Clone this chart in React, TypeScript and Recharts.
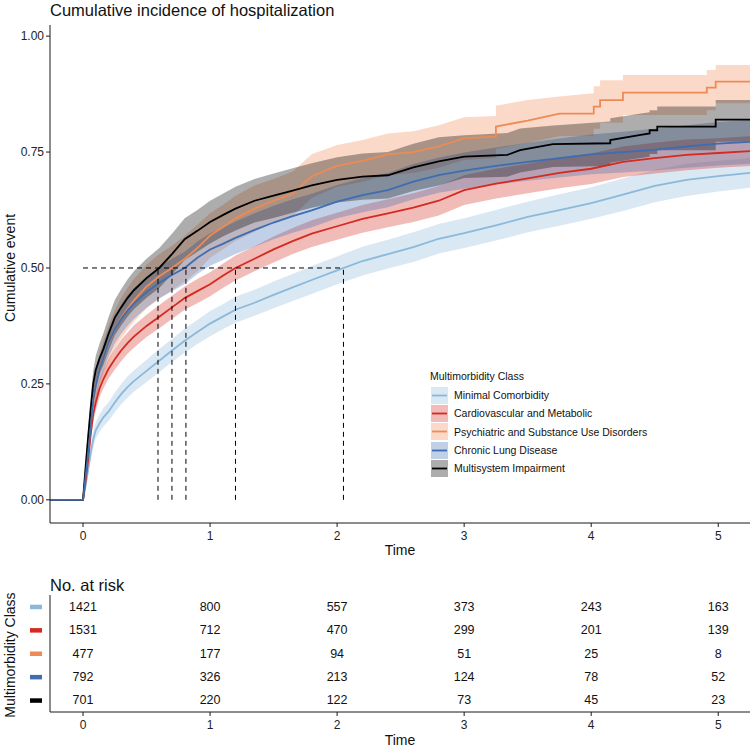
import { ComposedChart, Line, Area, XAxis, YAxis, ReferenceLine, ScatterChart, Scatter } from "recharts";

const FONT = '"Liberation Sans", Arial, Helvetica, sans-serif';

const classNames = [
  "Minimal Comorbidity",
  "Cardiovascular and Metabolic",
  "Psychiatric and Substance Use Disorders",
  "Chronic Lung Disease",
  "Multisystem Impairment",
];
const classColors = ["#8AB9DB", "#D42A20", "#EF8A54", "#3E6DB0", "#000000"];

// shared time grid (years) for the smoother curves
const gridTime = [-0.26, 0, 0.02, 0.04, 0.06, 0.08, 0.1, 0.13, 0.16, 0.2, 0.25, 0.3, 0.35, 0.4, 0.5, 0.6, 0.7, 0.8, 0.9, 1.0, 1.1, 1.2, 1.35, 1.5, 1.65, 1.8, 2.0, 2.2, 2.4, 2.6, 2.8, 3.0, 3.25, 3.5, 3.75, 4.0, 4.25, 4.5, 4.75, 5.0, 5.25];

const minimalEst = [0, 0, 0.03, 0.065, 0.1, 0.13, 0.15, 0.165, 0.178, 0.19, 0.21, 0.228, 0.243, 0.256, 0.278, 0.3, 0.322, 0.343, 0.362, 0.38, 0.395, 0.41, 0.425, 0.442, 0.458, 0.474, 0.495, 0.515, 0.53, 0.545, 0.563, 0.575, 0.592, 0.61, 0.625, 0.64, 0.658, 0.677, 0.69, 0.698, 0.705];
const minimalLo = [0, 0, 0.022, 0.053, 0.085, 0.113, 0.132, 0.146, 0.158, 0.17, 0.189, 0.206, 0.22, 0.233, 0.254, 0.275, 0.297, 0.317, 0.336, 0.353, 0.368, 0.382, 0.397, 0.413, 0.429, 0.444, 0.465, 0.484, 0.499, 0.513, 0.531, 0.543, 0.559, 0.577, 0.591, 0.606, 0.623, 0.642, 0.655, 0.665, 0.673];
const minimalHi = [0, 0, 0.038, 0.077, 0.115, 0.147, 0.168, 0.184, 0.198, 0.21, 0.231, 0.25, 0.266, 0.279, 0.302, 0.325, 0.347, 0.369, 0.388, 0.407, 0.422, 0.438, 0.453, 0.471, 0.487, 0.504, 0.525, 0.546, 0.561, 0.577, 0.595, 0.607, 0.625, 0.643, 0.659, 0.674, 0.693, 0.712, 0.725, 0.731, 0.737];

const cardioEst = [0, 0, 0.04, 0.085, 0.14, 0.185, 0.21, 0.24, 0.26, 0.282, 0.303, 0.322, 0.338, 0.352, 0.375, 0.395, 0.415, 0.435, 0.45, 0.465, 0.483, 0.5, 0.52, 0.54, 0.558, 0.574, 0.59, 0.606, 0.618, 0.63, 0.645, 0.668, 0.682, 0.693, 0.705, 0.714, 0.729, 0.737, 0.744, 0.748, 0.752];
const cardioLo = [0, 0, 0.032, 0.074, 0.126, 0.168, 0.192, 0.221, 0.24, 0.261, 0.281, 0.299, 0.315, 0.328, 0.351, 0.37, 0.39, 0.41, 0.424, 0.439, 0.457, 0.473, 0.493, 0.512, 0.53, 0.545, 0.561, 0.576, 0.588, 0.599, 0.613, 0.636, 0.65, 0.661, 0.672, 0.681, 0.696, 0.704, 0.711, 0.716, 0.72];
const cardioHi = [0, 0, 0.048, 0.096, 0.154, 0.202, 0.228, 0.259, 0.28, 0.303, 0.325, 0.345, 0.361, 0.376, 0.399, 0.42, 0.44, 0.46, 0.476, 0.491, 0.509, 0.527, 0.547, 0.568, 0.586, 0.603, 0.619, 0.636, 0.648, 0.661, 0.677, 0.7, 0.714, 0.725, 0.738, 0.747, 0.762, 0.77, 0.777, 0.78, 0.784];

// repeated times mark the visible jumps of the step curve
const psychTime = [-0.26, 0, 0.02, 0.04, 0.06, 0.08, 0.1, 0.13, 0.16, 0.2, 0.25, 0.3, 0.35, 0.4, 0.5, 0.6, 0.7, 0.8, 0.9, 1.0, 1.1, 1.2, 1.35, 1.5, 1.65, 1.8, 2.0, 2.2, 2.4, 2.6, 2.8, 3.0, 3.25, 3.25, 3.5, 3.75, 4.02, 4.02, 4.07, 4.07, 4.25, 4.25, 4.91, 4.91, 4.98, 4.98, 5.25];
const psychEst = [0, 0, 0.055, 0.11, 0.16, 0.21, 0.245, 0.28, 0.305, 0.335, 0.368, 0.392, 0.412, 0.43, 0.46, 0.482, 0.5, 0.52, 0.543, 0.57, 0.588, 0.607, 0.628, 0.645, 0.66, 0.698, 0.72, 0.731, 0.745, 0.75, 0.762, 0.78, 0.783, 0.805, 0.818, 0.833, 0.833, 0.848, 0.848, 0.862, 0.862, 0.878, 0.878, 0.889, 0.889, 0.902, 0.902];
const psychLo = [0, 0, 0.04, 0.09, 0.135, 0.18, 0.212, 0.244, 0.267, 0.295, 0.326, 0.348, 0.367, 0.384, 0.413, 0.434, 0.452, 0.471, 0.493, 0.522, 0.54, 0.558, 0.578, 0.598, 0.612, 0.651, 0.675, 0.686, 0.7, 0.705, 0.716, 0.733, 0.737, 0.757, 0.77, 0.784, 0.785, 0.8, 0.8, 0.813, 0.813, 0.83, 0.83, 0.84, 0.84, 0.855, 0.855];
const psychHi = [0, 0, 0.07, 0.13, 0.185, 0.24, 0.278, 0.316, 0.343, 0.375, 0.41, 0.436, 0.457, 0.476, 0.507, 0.53, 0.548, 0.569, 0.593, 0.618, 0.636, 0.656, 0.678, 0.692, 0.708, 0.745, 0.765, 0.776, 0.79, 0.795, 0.808, 0.825, 0.828, 0.85, 0.862, 0.87, 0.877, 0.892, 0.892, 0.905, 0.905, 0.916, 0.916, 0.927, 0.927, 0.9375, 0.9375];

const lungEst = [0, 0, 0.05, 0.1, 0.155, 0.215, 0.245, 0.28, 0.305, 0.338, 0.368, 0.39, 0.408, 0.423, 0.448, 0.468, 0.485, 0.5, 0.522, 0.54, 0.552, 0.565, 0.582, 0.598, 0.612, 0.624, 0.643, 0.657, 0.668, 0.686, 0.7, 0.71, 0.72, 0.729, 0.737, 0.745, 0.75, 0.755, 0.762, 0.768, 0.772];
const lungLo = [0, 0, 0.04, 0.085, 0.135, 0.19, 0.218, 0.252, 0.276, 0.308, 0.337, 0.358, 0.375, 0.39, 0.414, 0.434, 0.45, 0.465, 0.487, 0.505, 0.517, 0.53, 0.546, 0.562, 0.576, 0.588, 0.607, 0.62, 0.631, 0.648, 0.662, 0.671, 0.68, 0.688, 0.695, 0.702, 0.706, 0.71, 0.716, 0.721, 0.725];
const lungHi = [0, 0, 0.06, 0.115, 0.175, 0.24, 0.272, 0.308, 0.334, 0.368, 0.399, 0.422, 0.441, 0.456, 0.482, 0.502, 0.52, 0.535, 0.557, 0.575, 0.587, 0.6, 0.618, 0.634, 0.648, 0.66, 0.679, 0.694, 0.705, 0.724, 0.738, 0.749, 0.76, 0.77, 0.779, 0.788, 0.794, 0.8, 0.808, 0.815, 0.819];

const multiTime = [-0.26, 0, 0.02, 0.04, 0.06, 0.08, 0.1, 0.13, 0.16, 0.2, 0.25, 0.3, 0.35, 0.4, 0.5, 0.6, 0.7, 0.8, 0.9, 1.0, 1.1, 1.2, 1.35, 1.5, 1.65, 1.8, 2.0, 2.2, 2.4, 2.6, 2.8, 3.0, 3.34, 3.44, 3.7, 4.15, 4.15, 4.39, 4.46, 4.46, 4.52, 4.52, 4.98, 4.98, 5.25];
const multiEst = [0, 0, 0.07, 0.135, 0.195, 0.25, 0.28, 0.305, 0.325, 0.357, 0.393, 0.415, 0.435, 0.452, 0.478, 0.5, 0.53, 0.562, 0.58, 0.599, 0.614, 0.628, 0.645, 0.656, 0.667, 0.678, 0.69, 0.697, 0.7, 0.717, 0.73, 0.74, 0.744, 0.754, 0.767, 0.769, 0.776, 0.787, 0.79, 0.797, 0.797, 0.805, 0.805, 0.82, 0.82];
const multiLo = [0, 0, 0.055, 0.115, 0.17, 0.222, 0.25, 0.273, 0.291, 0.321, 0.355, 0.376, 0.395, 0.411, 0.436, 0.457, 0.486, 0.517, 0.535, 0.553, 0.568, 0.581, 0.598, 0.608, 0.619, 0.63, 0.641, 0.647, 0.65, 0.666, 0.678, 0.694, 0.697, 0.706, 0.718, 0.72, 0.727, 0.737, 0.74, 0.746, 0.746, 0.754, 0.754, 0.772, 0.772];
const multiHi = [0, 0, 0.085, 0.155, 0.22, 0.278, 0.31, 0.337, 0.359, 0.393, 0.431, 0.454, 0.475, 0.493, 0.52, 0.543, 0.574, 0.607, 0.625, 0.645, 0.66, 0.675, 0.692, 0.704, 0.715, 0.726, 0.739, 0.747, 0.75, 0.768, 0.782, 0.786, 0.791, 0.801, 0.807, 0.816, 0.823, 0.833, 0.836, 0.84, 0.84, 0.848, 0.848, 0.862, 0.862];

// median times (cumulative incidence reaches 0.5)
const medianTimes = [0.59, 0.7, 0.81, 1.2, 2.05];

// number at risk
const riskTimes = [0, 1, 2, 3, 4, 5];
const minimalRisk = [1421, 800, 557, 373, 243, 163];
const cardioRisk = [1531, 712, 470, 299, 201, 139];
const psychRisk = [477, 177, 94, 51, 25, 8];
const lungRisk = [792, 326, 213, 124, 78, 52];
const multiRisk = [701, 220, 122, 73, 45, 23];

const build = (t: number[], est: number[], lo: number[], hi: number[]) =>
  t.map((x, i) => ({ t: x, est: est[i], band: [lo[i], hi[i]] }));

const series = [
  build(gridTime, minimalEst, minimalLo, minimalHi),
  build(gridTime, cardioEst, cardioLo, cardioHi),
  build(psychTime, psychEst, psychLo, psychHi),
  build(gridTime, lungEst, lungLo, lungHi),
  build(multiTime, multiEst, multiLo, multiHi),
];

const riskRows = [minimalRisk, cardioRisk, psychRisk, lungRisk, multiRisk];
const riskPoints = riskRows.flatMap((row, r) => row.map((n, i) => ({ t: riskTimes[i], row: r + 1, n })));

// line draw order: chronic lung ends up on top of the flat pre-zero segment
const lineOrder = [0, 1, 2, 4, 3];

const xDomain: [number, number] = [-0.26, 5.25];
const axisStroke = "#1a1a1a";

const RiskText = (props: any) => (
  <text
    x={props.cx}
    y={props.cy}
    textAnchor="middle"
    dominantBaseline="central"
    fontSize={12.5}
    fontFamily={FONT}
    fill="#111"
  >
    {props.payload.n}
  </text>
);

const RiskTick = (props: any) => (
  <rect x={30} y={props.y - 2} width={12} height={4.5} fill={classColors[props.payload.value - 1]} />
);

const textStyle = (extra: any) => ({
  position: "absolute" as const,
  fontFamily: FONT,
  color: "#111",
  lineHeight: 1,
  whiteSpace: "nowrap" as const,
  ...extra,
});

export default function App() {
  return (
    <div style={{ position: "absolute", left: 0, top: 0, width: 750, height: 747, background: "#fff", overflow: "hidden" }}>
      <div style={textStyle({ left: 50, top: 2, fontSize: 16.5 })}>Cumulative incidence of hospitalization</div>

      <div style={{ position: "absolute", left: 0, top: 0 }}>
        <ComposedChart width={750} height={560} margin={{ top: 25, right: 0, bottom: 0, left: 0 }}>
          <XAxis
            dataKey="t"
            type="number"
            domain={xDomain}
            ticks={riskTimes}
            allowDataOverflow
            height={37}
            tickSize={4}
            tickMargin={4}
            stroke={axisStroke}
            tick={{ fill: "#222", fontSize: 12, fontFamily: FONT }}
          />
          <YAxis
            type="number"
            domain={[-0.05, 1.024]}
            ticks={[0, 0.25, 0.5, 0.75, 1]}
            tickFormatter={(v: number) => v.toFixed(2)}
            allowDataOverflow
            width={50}
            tickSize={4}
            tickMargin={2}
            stroke={axisStroke}
            tick={{ fill: "#222", fontSize: 12, fontFamily: FONT }}
          />
          {lineOrder.map((k) => (
            <Line
              key={"l" + k}
              data={series[k]}
              dataKey="est"
              type="linear"
              stroke={classColors[k]}
              strokeWidth={1.8}
              strokeLinejoin="miter"
              dot={false}
              activeDot={false}
              isAnimationActive={false}
            />
          ))}
          {series.map((d, k) => (
            <Area
              key={"a" + k}
              data={d}
              dataKey="band"
              type="linear"
              stroke="none"
              fill={classColors[k]}
              fillOpacity={0.32}
              dot={false}
              activeDot={false}
              isAnimationActive={false}
            />
          ))}
          <ReferenceLine
            segment={[{ x: 0, y: 0.5 }, { x: medianTimes[medianTimes.length - 1], y: 0.5 }]}
            stroke="#000"
            strokeWidth={1}
            strokeDasharray="5 4"
          />
          {medianTimes.map((m) => (
            <ReferenceLine
              key={"m" + m}
              segment={[{ x: m, y: 0 }, { x: m, y: 0.5 }]}
              stroke="#000"
              strokeWidth={1}
              strokeDasharray="5 4"
            />
          ))}
        </ComposedChart>
      </div>

      <div style={textStyle({ left: 10, top: 268, fontSize: 14, transform: "translate(-50%, -50%) rotate(-90deg)" })}>
        Cumulative event
      </div>
      <div style={textStyle({ left: 400, top: 543, fontSize: 14, transform: "translateX(-50%)" })}>Time</div>

      {/* legend */}
      <div style={textStyle({ left: 430, top: 371, fontSize: 10.5 })}>Multimorbidity Class</div>
      {classNames.map((name, i) => (
        <div key={name} style={{ position: "absolute", left: 431, top: 386.5 + i * 18.3, height: 17.3, display: "flex", alignItems: "center" }}>
          <svg width={17} height={17} style={{ display: "block" }}>
            <rect x={0} y={0} width={17} height={17} fill={classColors[i]} fillOpacity={0.32} />
            <line x1={1} x2={16} y1={8.5} y2={8.5} stroke={classColors[i]} strokeWidth={1.8} />
          </svg>
          <span style={{ marginLeft: 6, fontFamily: FONT, fontSize: 10.5, color: "#111", whiteSpace: "nowrap" }}>{name}</span>
        </div>
      ))}

      {/* risk table */}
      <div style={textStyle({ left: 50, top: 577, fontSize: 16.5 })}>No. at risk</div>
      <div style={{ position: "absolute", left: 0, top: 590 }}>
        <ScatterChart width={750} height={157} margin={{ top: 5, right: 0, bottom: 0, left: 0 }}>
          <XAxis
            dataKey="t"
            type="number"
            domain={xDomain}
            ticks={riskTimes}
            allowDataOverflow
            height={35}
            tickSize={4}
            tickMargin={4}
            stroke={axisStroke}
            tick={{ fill: "#222", fontSize: 12, fontFamily: FONT }}
          />
          <YAxis
            dataKey="row"
            type="number"
            domain={[0.5, 5.5]}
            ticks={[1, 2, 3, 4, 5]}
            reversed
            width={50}
            tickLine={false}
            stroke={axisStroke}
            tick={<RiskTick />}
          />
          <Scatter data={riskPoints} shape={<RiskText />} isAnimationActive={false} />
        </ScatterChart>
      </div>
      <div style={textStyle({ left: 10, top: 655, fontSize: 14, transform: "translate(-50%, -50%) rotate(-90deg)" })}>
        Multimorbidity Class
      </div>
      <div style={textStyle({ left: 400, top: 733, fontSize: 14, transform: "translateX(-50%)" })}>Time</div>
    </div>
  );
}
